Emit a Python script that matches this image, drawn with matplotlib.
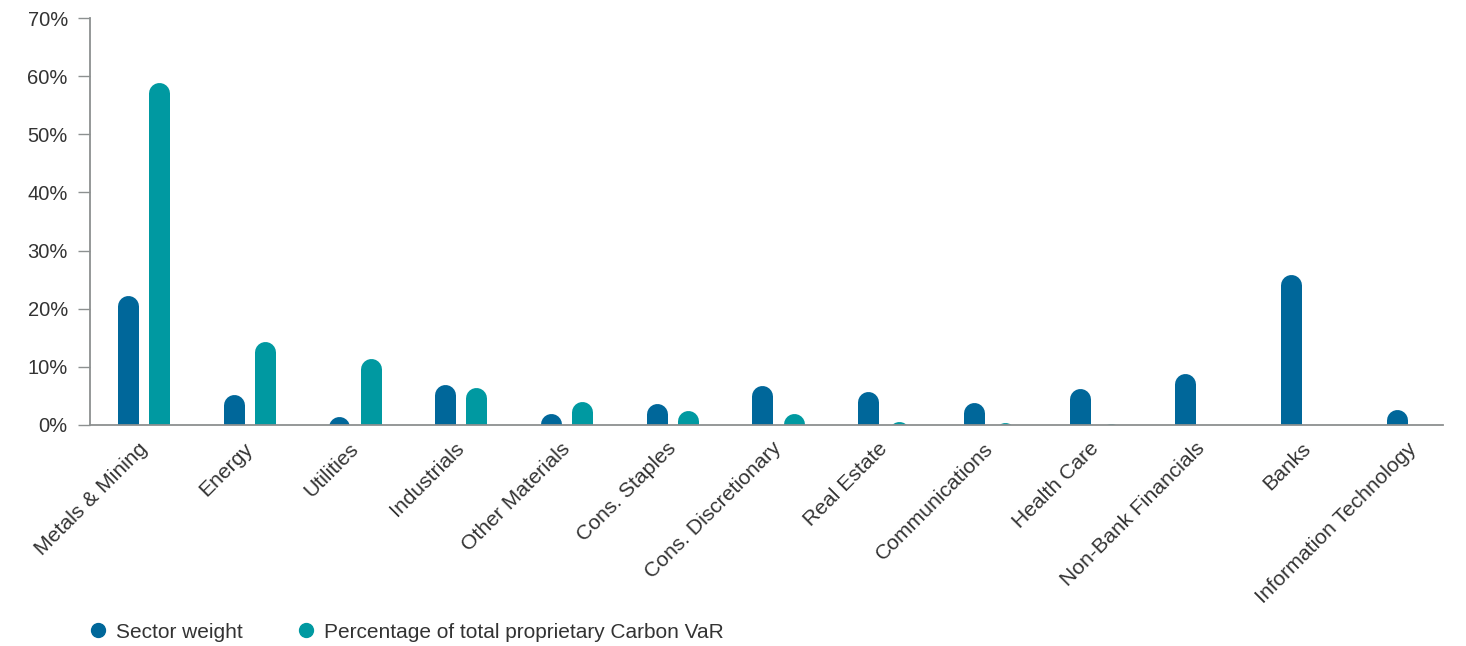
import numpy as np
import matplotlib.pyplot as plt
import matplotlib.transforms as mtransforms
from matplotlib.lines import Line2D

sectors = ["Metals & Mining", "Energy", "Utilities", "Industrials", "Other Materials",
           "Cons. Staples", "Cons. Discretionary", "Real Estate", "Communications",
           "Health Care", "Non-Bank Financials", "Banks", "Information Technology"]
sector_weight = [22.3, 5.2, 1.5, 7.0, 2.0, 3.7, 6.8, 5.7, 3.9, 6.2, 8.9, 25.9, 2.7]
carbon_var = [58.9, 14.3, 11.5, 6.4, 4.0, 2.5, 1.9, 0.6, 0.4, 0.3, None, None, None]

dark_blue = "#00679A"
teal = "#0099A1"
grey = "#8C9090"

plt.rcParams['font.family'] = ['Liberation Sans', 'DejaVu Sans']

fig = plt.figure(figsize=(14.66, 6.46), dpi=100)
ax = fig.add_axes([90 / 1466, 1 - 425 / 646, 1353 / 1466, 407 / 646])

ymax = 70
ax.set_ylim(0, ymax)
ax.set_xlim(-0.506, len(sectors) - 0.712)

# rounded-top bars: thick vertical lines with round caps, bottom cap clipped at zero
bar_px = 21
offset = 0.147
ax_h_px = ax.get_position().height * fig.get_figheight() * fig.dpi
r_data = (bar_px / 2) / (ax_h_px / ymax)
lw = bar_px * 72 / fig.dpi

x = np.arange(len(sectors))
for series, color, dx in [(sector_weight, dark_blue, -offset), (carbon_var, teal, offset)]:
    for xi, v in zip(x, series):
        if v is None:
            continue
        ax.vlines(xi + dx, -10, v - r_data, colors=color, linewidth=lw,
                  capstyle='round', zorder=2)

ax.set_yticks(range(0, 71, 10))
ax.set_yticklabels([f"{t}%" for t in range(0, 71, 10)])
ax.set_xticks(x)
ax.set_xticklabels(sectors, rotation=45, ha='right', rotation_mode='anchor')

ax.tick_params(axis='y', length=9, width=1, color=grey, labelsize=14.5,
               labelcolor="#333333", pad=7)
ax.tick_params(axis='x', length=0, labelsize=15.2, labelcolor="#333333", pad=10)

# nudge the rotated labels a little to the left
shift = mtransforms.ScaledTranslation(-6 / 100, 0, fig.dpi_scale_trans)
for lbl in ax.get_xticklabels():
    lbl.set_transform(lbl.get_transform() + shift)

for side in ['top', 'right']:
    ax.spines[side].set_visible(False)
for side in ['left', 'bottom']:
    ax.spines[side].set_color(grey)
    ax.spines[side].set_linewidth(1.3)
    ax.spines[side].set_zorder(3)

handles = [Line2D([], [], marker='o', linestyle='', markersize=10, color=dark_blue),
           Line2D([], [], marker='o', linestyle='', markersize=10, color=teal)]
fig.legend(handles, ["Sector weight", "Percentage of total proprietary Carbon VaR"],
           loc='center left', bbox_to_anchor=(58 / 1466, 1 - 632 / 646), ncol=2,
           frameon=False, fontsize=15, handletextpad=-0.1, columnspacing=2.0,
           labelcolor="#333333")

fig.savefig("out.png", dpi=100)
